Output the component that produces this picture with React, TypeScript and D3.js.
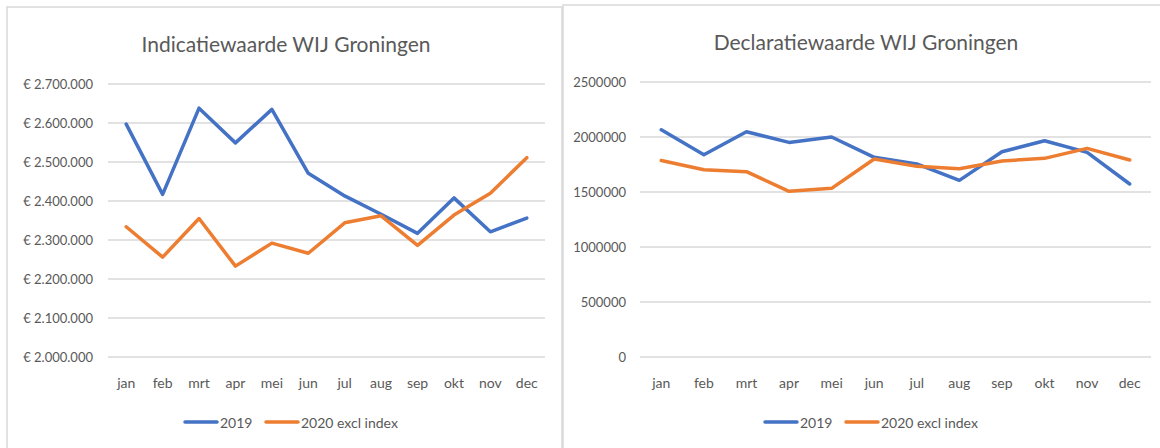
import React from "react";
import * as d3 from "d3";

const months = ["jan", "feb", "mrt", "apr", "mei", "jun", "jul", "aug", "sep", "okt", "nov", "dec"];
const seriesNames = ["2019", "2020 excl index"];
const seriesColors = ["#4472C4", "#ED7D31"];

const indicatie2019 = [2597000, 2417000, 2638000, 2549000, 2635000, 2471000, 2413000, 2366000, 2317000, 2408000, 2321000, 2356000];
const indicatie2020 = [2334000, 2256000, 2355000, 2233000, 2292000, 2266000, 2344000, 2362000, 2286000, 2364000, 2420000, 2511000];
const indicatieTicks = [2000000, 2100000, 2200000, 2300000, 2400000, 2500000, 2600000, 2700000];

const declaratie2019 = [2066000, 1839000, 2048000, 1951000, 2000000, 1815000, 1755000, 1606000, 1866000, 1966000, 1860000, 1573000];
const declaratie2020 = [1787000, 1703000, 1685000, 1506000, 1533000, 1800000, 1733000, 1712000, 1782000, 1806000, 1897000, 1791000];
const declaratieTicks = [0, 500000, 1000000, 1500000, 2000000, 2500000];

const FONT = "Lato, 'Open Sans', sans-serif";
const TEXT = "#595959";
const GRID = "#d9d9d9";

const euro = (v: number) => "€ " + d3.format(",")(v).replace(/,/g, ".");
const plain = (v: number) => String(v);

type PanelProps = {
  title: string;
  a: number[];
  b: number[];
  ticks: number[];
  fmt: (v: number) => string;
  box: { x: number; y: number; w: number; h: number };
  plot: { x0: number; x1: number; y0: number; y1: number };
  titleX: number;
  titleY: number;
  labelX: number;
  legendX: number;
  legendGap: number;
};

function Panel(p: PanelProps) {
  const x = d3.scaleBand<string>().domain(months).range([p.plot.x0, p.plot.x1]).padding(0);
  const y = d3.scaleLinear().domain([p.ticks[0], p.ticks[p.ticks.length - 1]]).range([p.plot.y1, p.plot.y0]);
  const cx = (m: string) => (x(m) as number) + x.bandwidth() / 2;
  const line = d3
    .line<number>()
    .x((_, i) => cx(months[i]))
    .y((d) => y(d));
  const series = [p.a, p.b];
  const ly = 422;
  return (
    <g>
      <rect x={p.box.x} y={p.box.y} width={p.box.w} height={p.box.h} fill="#fff" stroke={GRID} strokeWidth={1.5} />
      <text x={p.titleX} y={p.titleY} textAnchor="middle" dominantBaseline="central" fontSize={21} fill={TEXT} fontFamily={FONT}>
        {p.title}
      </text>
      {p.ticks.map((t) => (
        <g key={t}>
          <line x1={p.plot.x0} x2={p.plot.x1} y1={y(t)} y2={y(t)} stroke={GRID} strokeWidth={1.5} />
          <text x={p.labelX} y={y(t)} textAnchor="end" dominantBaseline="central" fontSize={13} fill={TEXT} fontFamily={FONT}>
            {p.fmt(t)}
          </text>
        </g>
      ))}
      {months.map((m) => (
        <text key={m} x={cx(m)} y={382} textAnchor="middle" dominantBaseline="central" fontSize={14} fill={TEXT} fontFamily={FONT}>
          {m}
        </text>
      ))}
      {series.map((s, i) => (
        <path key={i} d={line(s) || ""} fill="none" stroke={seriesColors[i]} strokeWidth={3.5} strokeLinejoin="round" strokeLinecap="round" />
      ))}
      <g transform={`translate(${p.legendX},${ly})`}>
        <line x1={0} x2={32} y1={0} y2={0} stroke={seriesColors[0]} strokeWidth={3.5} strokeLinecap="round" />
        <text x={35} y={0} dominantBaseline="central" fontSize={14} fill={TEXT} fontFamily={FONT}>
          {seriesNames[0]}
        </text>
        <line x1={p.legendGap} x2={p.legendGap + 32} y1={0} y2={0} stroke={seriesColors[1]} strokeWidth={3.5} strokeLinecap="round" />
        <text x={p.legendGap + 35} y={0} dominantBaseline="central" fontSize={14} fill={TEXT} fontFamily={FONT}>
          {seriesNames[1]}
        </text>
      </g>
    </g>
  );
}

export default function App() {
  return (
    <div style={{ position: "fixed", left: 0, top: 0, width: 1160, height: 448, background: "#fff" }}>
      <svg width={1160} height={448} style={{ display: "block" }}>
        <rect x={0} y={0} width={1160} height={448} fill="#fff" />
        <Panel
          title="Indicatiewaarde WIJ Groningen"
          a={indicatie2019}
          b={indicatie2020}
          ticks={indicatieTicks}
          fmt={euro}
          box={{ x: 7, y: 7, w: 555, h: 460 }}
          plot={{ x0: 108, x1: 545, y0: 84, y1: 357 }}
          titleX={286}
          titleY={43}
          labelX={93}
          legendX={185}
          legendGap={81}
        />
        <Panel
          title="Declaratiewaarde WIJ Groningen"
          a={declaratie2019}
          b={declaratie2020}
          ticks={declaratieTicks}
          fmt={plain}
          box={{ x: 563, y: 5, w: 620, h: 460 }}
          plot={{ x0: 640, x1: 1151, y0: 82, y1: 357 }}
          titleX={866}
          titleY={41}
          labelX={626}
          legendX={765}
          legendGap={81}
        />
      </svg>
    </div>
  );
}
